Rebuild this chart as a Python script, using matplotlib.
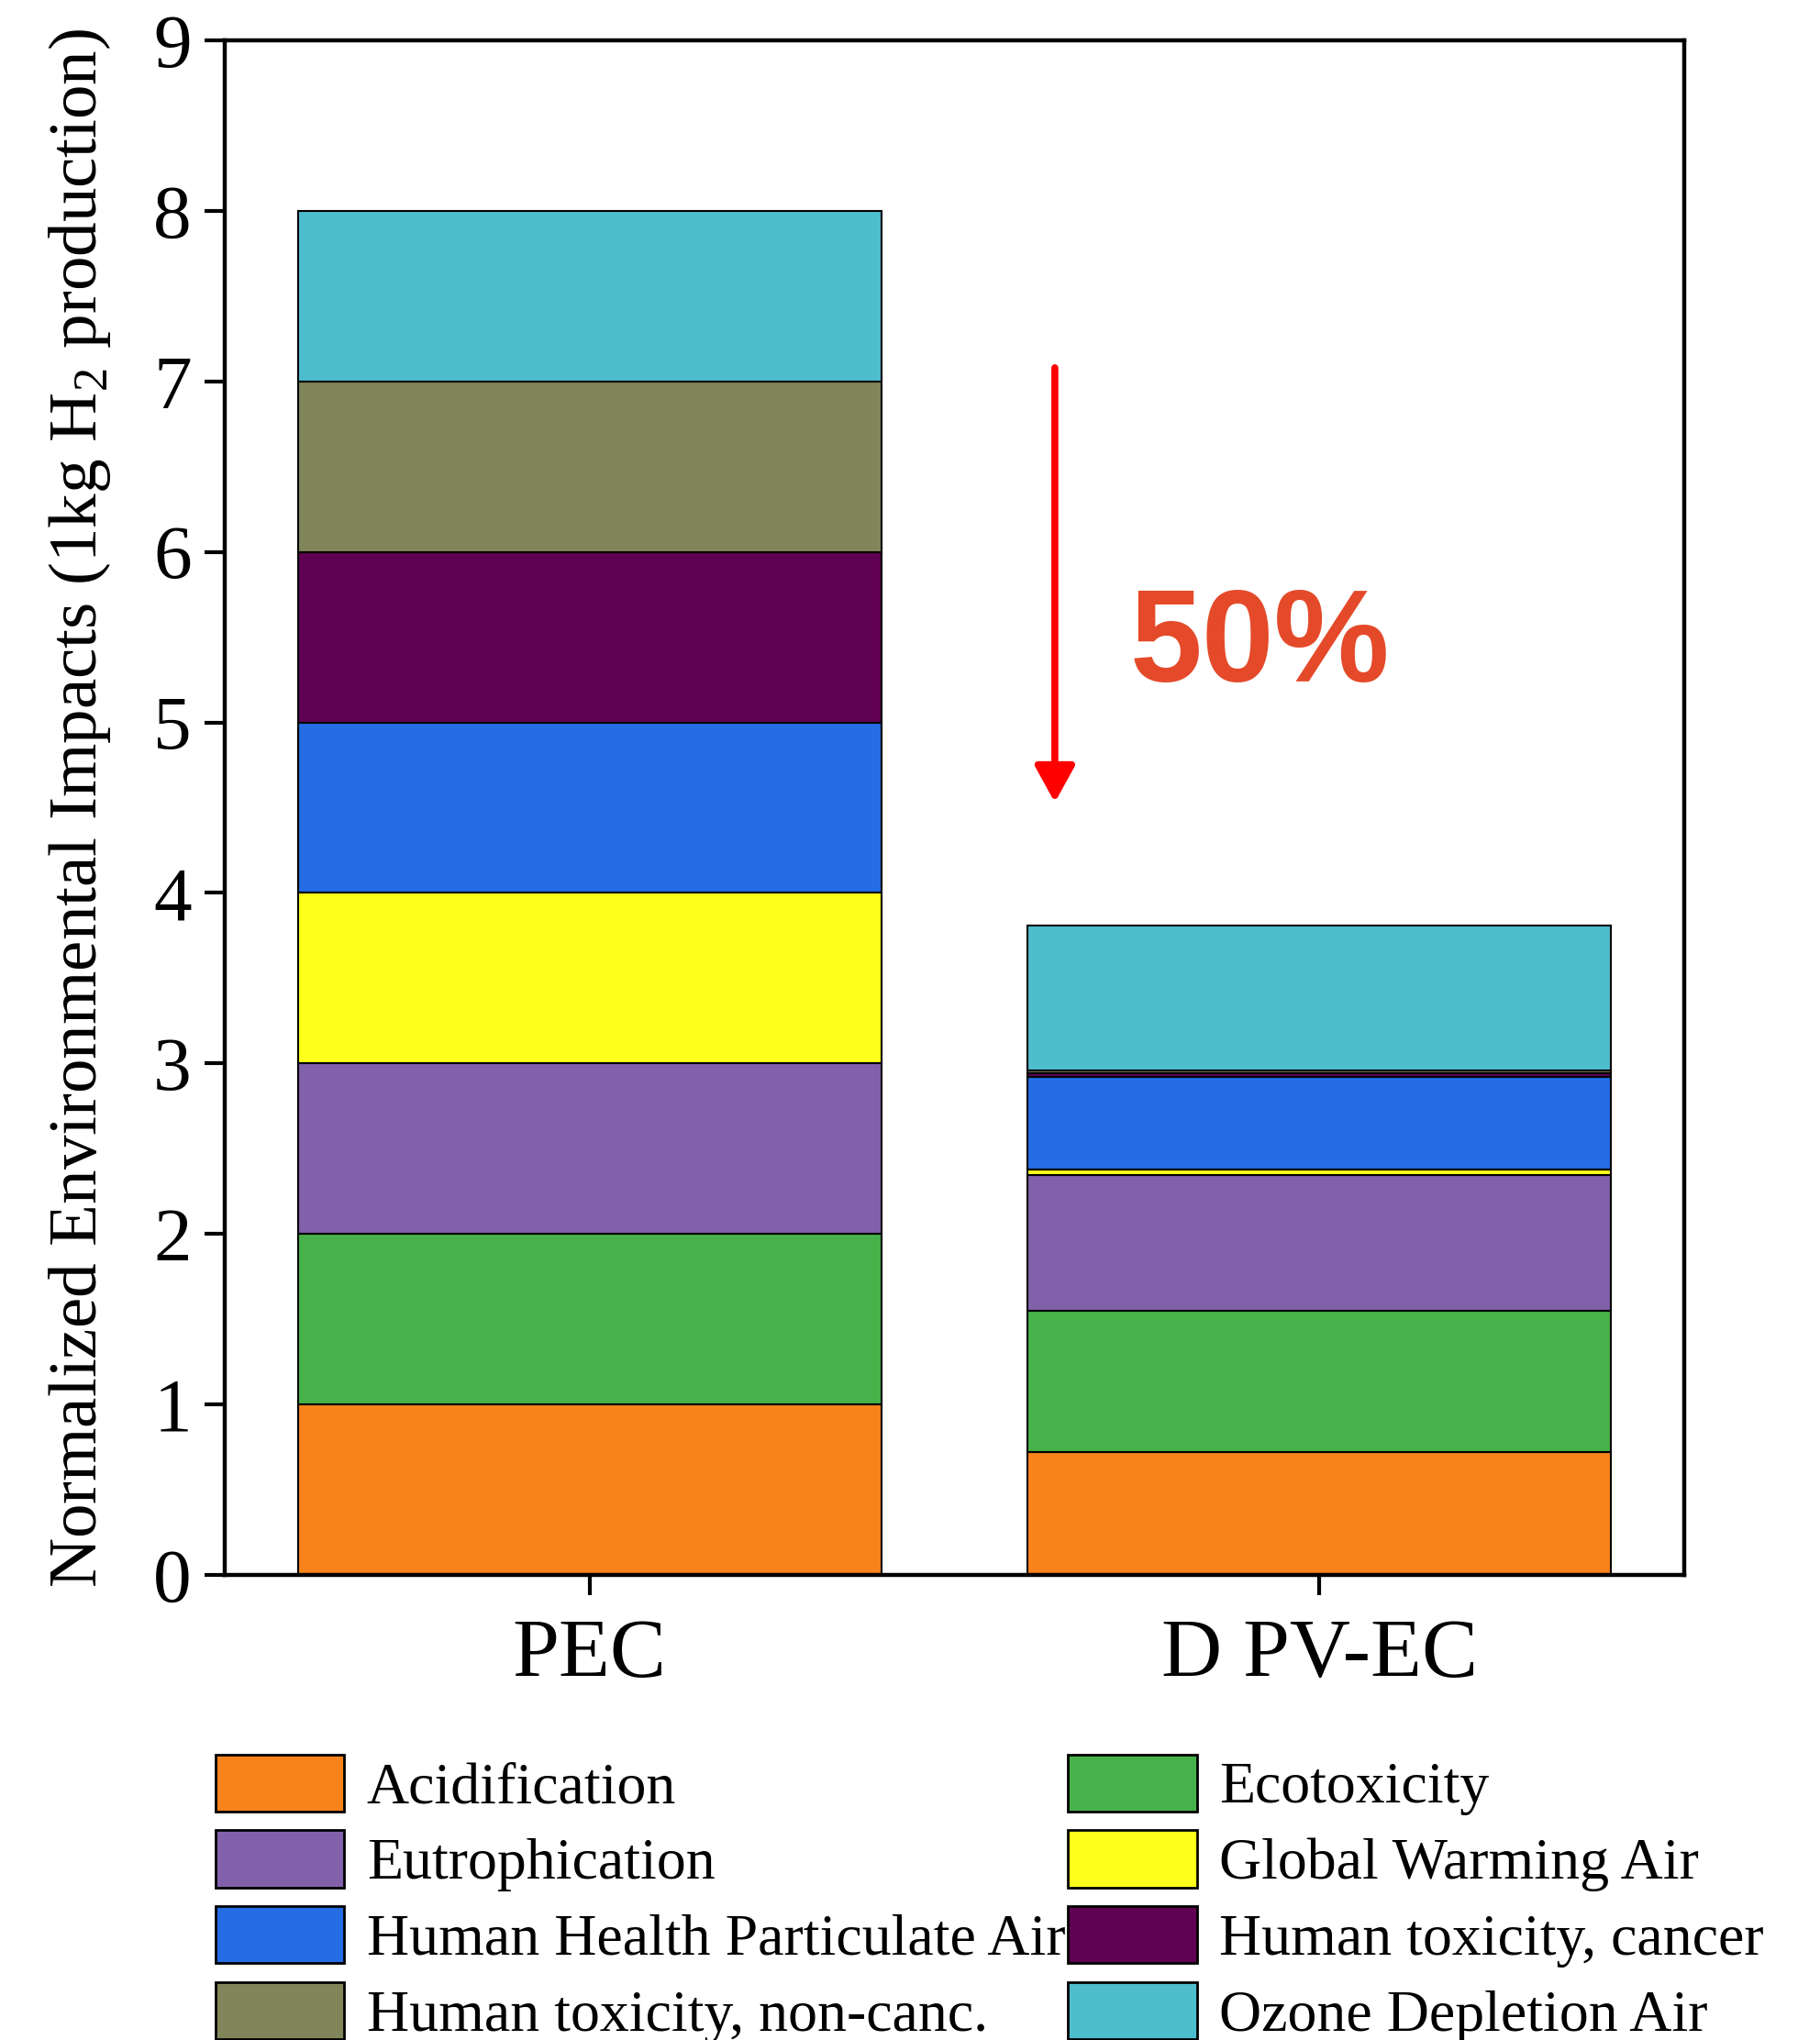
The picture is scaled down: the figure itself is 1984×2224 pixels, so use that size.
import matplotlib
matplotlib.use('Agg')
import matplotlib.pyplot as plt
from matplotlib.patches import Patch

plt.rcParams['font.family'] = ['Liberation Serif', 'DejaVu Serif']
plt.rcParams['mathtext.fontset'] = 'custom'
plt.rcParams['mathtext.rm'] = 'Liberation Serif'

# data
scenarios = ['PEC', 'D PV-EC']
categories = [
    'Acidification', 'Ecotoxicity', 'Eutrophication', 'Global Warming Air',
    'Human Health Particulate Air', 'Human toxicity, cancer',
    'Human toxicity, non-canc.', 'Ozone Depletion Air',
]
pec_values = [1.0, 1.0, 1.0, 1.0, 1.0, 1.0, 1.0, 1.0]
dpvec_values = [0.72, 0.83, 0.795, 0.035, 0.54, 0.022, 0.015, 0.85]
colors = ['#F8831B', '#48B24A', '#8161AA', '#FFFF1C',
          '#246DE5', '#600052', '#81865A', '#4EBDCD']

fig = plt.figure(figsize=(19.84, 22.24), dpi=100)
ax = fig.add_axes([0.1235, 0.228, 0.8019, 0.7522])

x = [0, 1]
bottoms = [0.0, 0.0]
for i, cat in enumerate(categories):
    vals = [pec_values[i], dpvec_values[i]]
    ax.bar(x, vals, width=0.8, bottom=bottoms, color=colors[i],
           edgecolor='black', linewidth=1.5, label=cat)
    bottoms = [b + v for b, v in zip(bottoms, vals)]

ax.set_xlim(-0.5, 1.5)
ax.set_ylim(0, 9)
ax.set_yticks(range(0, 10))
ax.set_xticks(x)
ax.set_xticklabels(scenarios, fontsize=66)
ax.tick_params(axis='y', labelsize=60, length=16, width=3, direction='out', pad=10)
ax.tick_params(axis='x', length=16, width=3, direction='out', pad=18)
for s in ax.spines.values():
    s.set_linewidth(3.2)

ax.set_ylabel('Normalized Environmental Impacts (1kg H$_2$ production)',
              fontsize=54, labelpad=32)

# reduction arrow + label
ax.annotate('', xy=(0.6375, 4.53), xytext=(0.6375, 7.08),
            arrowprops=dict(arrowstyle='-|>,head_length=0.4,head_width=0.22',
                            color='red', lw=5.5,
                            mutation_scale=60, shrinkA=0, shrinkB=0))
ax.text(0.74, 5.44, '50%', color='#E44A2A', fontsize=102, fontweight='bold',
        family='Liberation Sans', ha='left', va='center')

# legend: two columns placed by hand
handles = [Patch(facecolor=c, edgecolor='black', linewidth=2) for c in colors]
col1 = [0, 2, 4, 6]
col2 = [1, 3, 5, 7]
leg_kw = dict(loc='upper left', frameon=False, fontsize=46, borderpad=0,
              handlelength=2.2, handleheight=1.12, handletextpad=0.38,
              labelspacing=0.25, borderaxespad=0)
fig.legend([handles[i] for i in col1], [categories[i] for i in col1],
           bbox_to_anchor=(0.1184, 0.140), **leg_kw)
fig.legend([handles[i] for i in col2], [categories[i] for i in col2],
           bbox_to_anchor=(0.5867, 0.140), **leg_kw)

fig.savefig('out.png', dpi=100)
